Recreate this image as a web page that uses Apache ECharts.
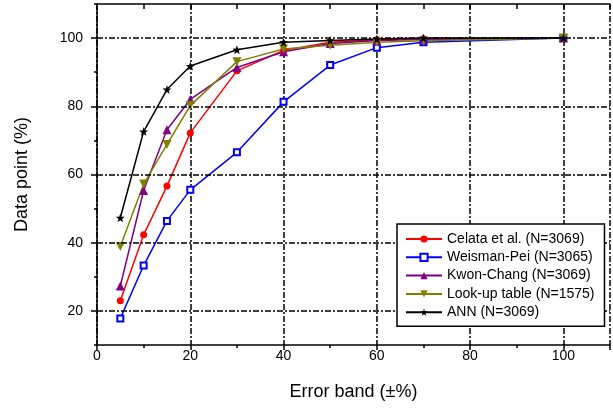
<!DOCTYPE html>
<html><head><meta charset="utf-8">
<script src="https://cdn.jsdelivr.net/npm/echarts@6/dist/echarts.min.js"></script>
<style>html,body{margin:0;padding:0;background:#fff}#c{width:613px;height:408px}</style>
</head><body><div id="c"></div>
<script>
const errorBand = [5, 10, 15, 20, 30, 40, 50, 60, 70, 100];
const celata    = [23.0, 42.3, 56.6, 72.2, 90.4, 96.4, 98.8, 99.5, 99.8, 100];
const weisman   = [17.8, 33.3, 46.4, 55.5, 66.5, 81.3, 92.1, 97.2, 98.8, 100];
const kwonChang = [27.3, 55.3, 73.1, 82.0, 91.4, 96.0, 98.4, 99.3, 99.6, 100];
const lookup    = [38.9, 57.2, 68.8, 80.2, 93.1, 96.8, 97.9, 98.8, 99.2, 100];
const ann       = [47.3, 72.6, 84.9, 91.8, 96.6, 98.8, 99.3, 99.7, 100, 100];
const yMajor = [20, 40, 60, 80, 100];
const names = ['Celata et al. (N=3069)', 'Weisman-Pei (N=3065)', 'Kwon-Chang (N=3069)', 'Look-up table (N=1575)', 'ANN (N=3069)'];

const star = 'path://M0,-10 L2.35,-3.24 L9.51,-3.09 L3.8,1.24 L5.88,8.09 L0,4 L-5.88,8.09 L-3.8,1.24 L-9.51,-3.09 L-2.35,-3.24 Z';
const font = 'Liberation Sans, Arial, sans-serif';
const dashDot = [6, 2, 2, 2];

function pts(arr) { return errorBand.map((x, i) => [x, arr[i]]); }
function mk(name, data, color, symbol, size, extra) {
  return Object.assign({
    name, type: 'line', data: pts(data), symbol, symbolSize: size,
    lineStyle: { color, width: 1.5 }, itemStyle: { color },
    z: 3, animation: false
  }, extra || {});
}

const chart = echarts.init(document.getElementById('c'), null, { renderer: 'canvas' });
chart.setOption({
  animation: false,
  textStyle: { fontFamily: font },
  grid: { left: 97, top: 4, right: -5, bottom: 63, containLabel: false },
  legend: {
    orient: 'vertical', left: 397, top: 224,
    data: names,
    backgroundColor: '#fff', borderColor: '#000', borderWidth: 1.5, borderRadius: 0,
    padding: [8, 10, 7, 8],
    itemWidth: 36, itemHeight: 9, itemGap: 4.3,
    textStyle: { fontSize: 14, color: '#000', fontFamily: font, lineHeight: 14 },
    z: 10
  },
  xAxis: [{
    type: 'value', min: 0, max: 110, interval: 20,
    name: 'Error band (\u00b1%)', nameLocation: 'middle', nameGap: 38,
    nameTextStyle: { fontSize: 18, color: '#000', fontFamily: font },
    axisLine: { show: true, onZero: false, lineStyle: { color: '#000', width: 1.5 } },
    axisTick: { show: true, inside: false, length: 5, lineStyle: { color: '#000', width: 1.5 } },
    minorTick: { show: true, splitNumber: 2, length: 3, lineStyle: { color: '#000', width: 1.5 } },
    axisLabel: { fontSize: 14, color: '#000', margin: 4, fontFamily: font,
      formatter: v => (v > 100 ? '' : String(v)) },
    splitLine: { show: true, lineStyle: { color: '#000', width: 1.5, type: dashDot } }
  }, {
    type: 'value', position: 'top', min: 0, max: 110, interval: 10,
    axisLine: { show: true, onZero: false, lineStyle: { color: '#000', width: 1.5 } },
    axisTick: { show: true, inside: true, length: 5, lineStyle: { color: '#000', width: 1.5 } },
    axisLabel: { show: false }, splitLine: { show: false }
  }],
  yAxis: [{
    type: 'value', min: 10, max: 110, interval: 10,
    name: 'Data point (%)', nameLocation: 'middle', nameGap: 66, nameRotate: 90,
    nameTextStyle: { fontSize: 18, color: '#000', fontFamily: font },
    axisLine: { show: true, onZero: false, lineStyle: { color: '#000', width: 1.5 } },
    axisTick: { show: true, inside: false, length: 3, lineStyle: { color: '#000', width: 1.5 } },
    axisLabel: { fontSize: 14, color: '#000', margin: 14, fontFamily: font,
      formatter: v => (yMajor.indexOf(v) >= 0 ? String(v) : '') },
    splitLine: { show: false }
  }, {
    type: 'value', position: 'left', min: 10, max: 110, interval: 10,
    axisLine: { show: false },
    axisTick: { show: true, inside: false, length: 6, customValues: yMajor, lineStyle: { color: '#000', width: 1.5 } },
    axisLabel: { show: false }, splitLine: { show: false }
  }],
  series: [
    { name: '_grid', type: 'line', data: [], z: 1, silent: true, animation: false,
      markLine: { silent: true, symbol: 'none', label: { show: false }, animation: false,
        lineStyle: { color: '#000', width: 1.5, type: dashDot },
        data: yMajor.map(v => ({ yAxis: v })) } },
    mk(names[0], celata, '#ff0000', 'circle', 7),
    mk(names[1], weisman, '#0000ff', 'emptyRect', 6, { itemStyle: { color: '#0000ff', borderColor: '#0000ff', borderWidth: 1.5 } }),
    mk(names[2], kwonChang, '#800080', 'triangle', 9),
    mk(names[3], lookup, '#808000', 'triangle', 9, { symbolRotate: 180 }),
    mk(names[4], ann, '#000000', star, 9)
  ]
});
</script></body></html>
